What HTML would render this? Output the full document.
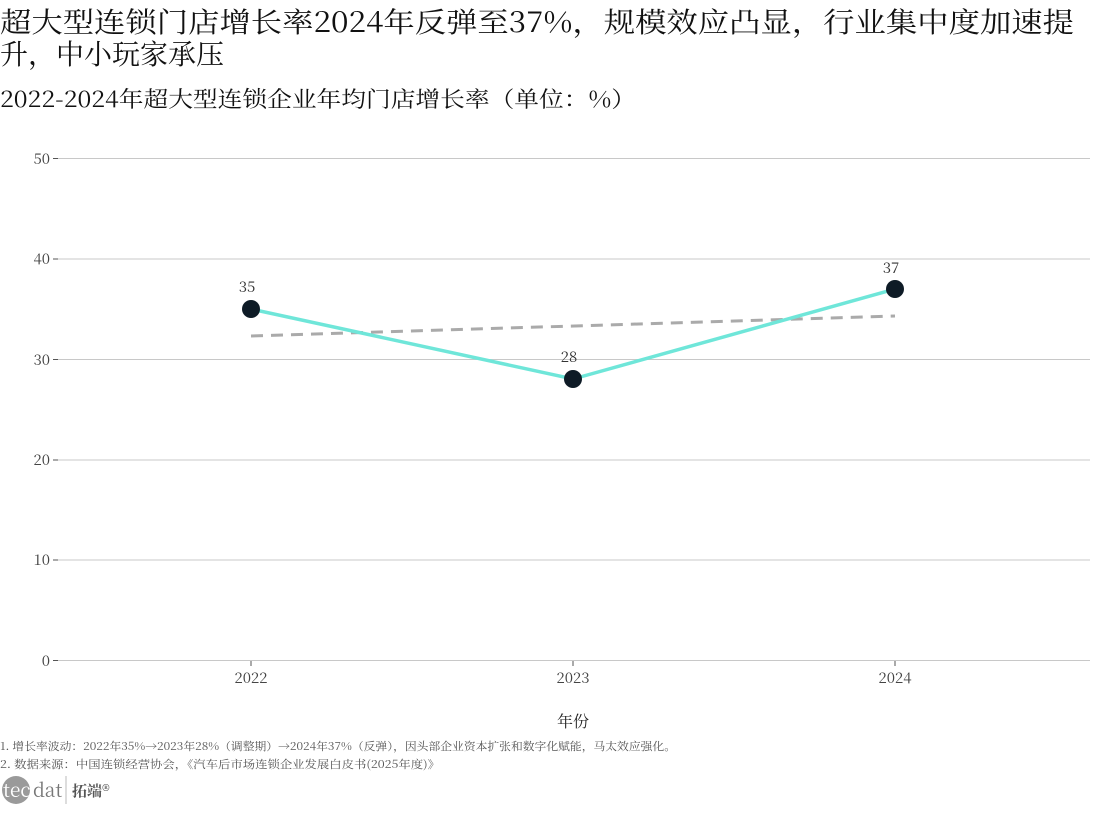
<!DOCTYPE html>
<html><head><meta charset="utf-8"><style>
body{margin:0;background:#fff;}
svg text{font-family:"Noto Serif CJK SC","Liberation Serif",serif;}
</style></head><body>
<svg width="1098" height="812" xmlns="http://www.w3.org/2000/svg">
<rect width="1098" height="812" fill="#fff"/>
<text x="0" y="32" font-size="28" fill="#111" textLength="1074" lengthAdjust="spacingAndGlyphs">超大型连锁门店增长率2024年反弹至37%，规模效应凸显，行业集中度加速提</text>
<text x="0" y="64" font-size="28" fill="#111">升，中小玩家承压</text>
<text x="0" y="107" font-size="22" fill="#111" textLength="636" lengthAdjust="spacingAndGlyphs">2022-2024年超大型连锁企业年均门店增长率（单位：%）</text>
<g stroke="#c8c8c8" stroke-width="1">
<line x1="58" x2="1090" y1="158.5" y2="158.5"/>
<line x1="58" x2="1090" y1="259" y2="259"/>
<line x1="58" x2="1090" y1="359.5" y2="359.5"/>
<line x1="58" x2="1090" y1="460" y2="460"/>
<line x1="58" x2="1090" y1="560" y2="560"/>
<line x1="58" x2="1090" y1="660.5" y2="660.5"/>
</g>
<g stroke="#555" stroke-width="1">
<line x1="53" x2="58" y1="158.5" y2="158.5"/><line x1="53" x2="58" y1="259" y2="259"/>
<line x1="53" x2="58" y1="359.5" y2="359.5"/><line x1="53" x2="58" y1="460" y2="460"/>
<line x1="53" x2="58" y1="560" y2="560"/><line x1="53" x2="58" y1="660.5" y2="660.5"/>
<line x1="251" x2="251" y1="661" y2="666"/><line x1="573" x2="573" y1="661" y2="666"/><line x1="895" x2="895" y1="661" y2="666"/>
</g>
<g font-size="15" fill="#444" text-anchor="end">
<text x="50" y="164">50</text><text x="50" y="264">40</text><text x="50" y="365">30</text>
<text x="50" y="465">20</text><text x="50" y="565">10</text><text x="50" y="666">0</text>
</g>
<g font-size="15" fill="#444" text-anchor="middle">
<text x="251" y="683">2022</text><text x="573" y="683">2023</text><text x="895" y="683">2024</text>
<text x="573" y="727" font-size="16" fill="#222">年份</text>
</g>
<line x1="251" y1="336" x2="895" y2="316" stroke="#aaa" stroke-width="3" stroke-dasharray="12,8"/>
<polyline points="251,309 573,379 895,289" fill="none" stroke="#6fe6d9" stroke-width="3.5"/>
<g fill="#0e1b26">
<circle cx="251" cy="309" r="9"/><circle cx="573" cy="379" r="9"/><circle cx="895" cy="289" r="9"/>
</g>
<g font-size="15" fill="#333" text-anchor="middle">
<text x="247" y="292">35</text><text x="569" y="362">28</text><text x="891" y="273">37</text>
</g>
<text x="0" y="750" font-size="11" fill="#555" textLength="676" lengthAdjust="spacingAndGlyphs">1.  增长率波动：2022年35%→2023年28%（调整期）→2024年37%（反弹），因头部企业资本扩张和数字化赋能，马太效应强化。</text>
<text x="0" y="768" font-size="11" fill="#555" textLength="440" lengthAdjust="spacingAndGlyphs">2.  数据来源：中国连锁经营协会，《汽车后市场连锁企业发展白皮书(2025年度)》</text>
<circle cx="16" cy="790" r="14" fill="#9a9a9a"/>
<text x="3" y="797" font-size="19" fill="#fff" font-family="Liberation Sans,sans-serif">tec</text>
<text x="33" y="797" font-size="19" fill="#777" font-family="Liberation Sans,sans-serif">dat</text>
<line x1="66" y1="776" x2="66" y2="804" stroke="#bbb"/>
<text x="72" y="796" font-size="15" font-weight="bold" fill="#555">拓端®</text>
</svg>
</body></html>
